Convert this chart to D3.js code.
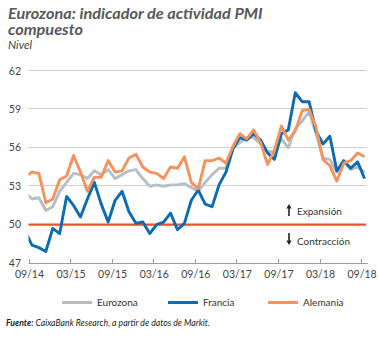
<!DOCTYPE html>
<html><head><meta charset="utf-8">
<script src="https://cdn.jsdelivr.net/npm/d3@7"></script>
<style>body{margin:0;background:#fff}svg{display:block}</style>
</head><body>
<svg id="c" width="378" height="338"></svg>
<script>
// ---------- DATA ----------
const months = ["08/14","09/14","10/14","11/14","12/14",
 "01/15","02/15","03/15","04/15","05/15","06/15","07/15","08/15","09/15","10/15","11/15","12/15",
 "01/16","02/16","03/16","04/16","05/16","06/16","07/16","08/16","09/16","10/16","11/16","12/16",
 "01/17","02/17","03/17","04/17","05/17","06/17","07/17","08/17","09/17","10/17","11/17","12/17",
 "01/18","02/18","03/18","04/18","05/18","06/18","07/18","08/18","09/18"];
const eurozona = [52.5, 52.0, 52.1, 51.1, 51.4,
 52.6, 53.3, 54.0, 53.9, 53.6, 54.2, 53.9, 54.3, 53.6, 53.9, 54.2, 54.3,
 53.6, 53.0, 53.1, 53.0, 53.1, 53.1, 53.2, 52.9, 52.6, 53.3, 53.9, 54.4,
 54.4, 56.0, 56.4, 56.8, 56.8, 56.3, 55.7, 55.7, 56.7, 56.0, 57.5, 58.1,
 58.8, 57.1, 55.2, 55.1, 54.1, 54.9, 54.3, 54.5, 54.1];
const francia = [49.5, 48.4, 48.2, 47.9, 49.7,
 49.3, 52.2, 51.5, 50.6, 52.0, 53.3, 51.6, 50.2, 51.9, 52.6, 51.0, 50.1,
 50.2, 49.3, 50.0, 50.2, 50.9, 49.6, 50.1, 51.9, 52.7, 51.6, 51.4, 53.1,
 54.1, 55.9, 56.8, 56.6, 57.1, 56.6, 55.6, 55.1, 57.1, 57.4, 60.3, 59.6,
 59.6, 57.3, 56.3, 56.9, 54.2, 55.0, 54.4, 54.9, 53.6];
const alemania = [53.7, 54.1, 54.0, 51.7, 52.0,
 53.5, 53.8, 55.4, 54.1, 52.6, 53.7, 53.7, 55.0, 54.1, 54.2, 55.2, 55.5,
 54.5, 54.1, 54.0, 53.6, 54.5, 54.4, 55.3, 53.3, 52.8, 55.0, 55.0, 55.2,
 54.8, 56.1, 57.1, 56.7, 57.4, 56.4, 54.7, 55.8, 57.7, 56.6, 57.3, 58.9,
 59.0, 57.6, 55.1, 54.6, 53.4, 54.8, 55.0, 55.6, 55.3];
const yTicks = [47, 50, 53, 56, 59, 62];
const xTickLabels = ["09/14","03/15","09/15","03/16","09/16","03/17","09/17","03/18","09/18"];
const seriesNames = ["Eurozona", "Francia", "Alemania"];
const refLevel = 50;

// ---------- STYLE ----------
const colors = {Eurozona:"#b6bfc6", Francia:"#0b6cb3", Alemania:"#f5925d"};
const FONT = "Lato, 'Open Sans', sans-serif";
const svg = d3.select("#c");
svg.append("rect").attr("width",378).attr("height",338).attr("fill","#fff");

const left = 28.5, right = 368, step = (right-left)/49;
const xb = d3.scaleBand().domain(months).range([left - step, right]);
const cx = m => xb(m) + xb.bandwidth()/2;
const y = d3.scaleLinear().domain([47, 62]).range([263, 71]);
const crisp = v => Math.round(v) + 0.5;

// title
const tg = svg.append("g");
const t1 = tg.append("text").attr("x",0).attr("y",19).text("Eurozona: indicador de actividad PMI");
const t2 = tg.append("text").attr("x",0).attr("y",35).text("compuesto");
tg.selectAll("text").attr("font-family",FONT).attr("font-size",14.5).attr("font-weight","bold")
  .attr("font-style","italic").attr("fill","#58595b");
const f = 255 / t1.node().getComputedTextLength();
tg.attr("transform",`translate(8,0) scale(${f},1)`);
svg.append("text").attr("x",8).attr("y",49).text("Nivel")
  .attr("font-family",FONT).attr("font-size",11.5).attr("font-style","italic").attr("fill","#444");

// grid
svg.append("g").selectAll("line").data(yTicks.filter(v => v > 47 && v !== refLevel)).join("line")
  .attr("x1",left).attr("x2",367).attr("y1",d=>crisp(y(d))-1).attr("y2",d=>crisp(y(d))-1)
  .attr("stroke","#cfcfcf").attr("stroke-width",1);

// y labels
svg.append("g").selectAll("text").data(yTicks).join("text")
  .attr("x",21).attr("y",d=>y(d)).attr("dy","0.35em").attr("text-anchor","end")
  .attr("font-family",FONT).attr("font-size",10.5).attr("fill","#444").text(d=>d);

// reference line 50
svg.append("line").attr("x1",left).attr("x2",366).attr("y1",y(refLevel)).attr("y2",y(refLevel))
  .attr("stroke","#e8532a").attr("stroke-width",2.2);

// x axis
const ay = crisp(y(47));
svg.append("line").attr("x1",left).attr("x2",right).attr("y1",ay).attr("y2",ay)
  .attr("stroke","#9c9c9c").attr("stroke-width",1);
const xg = svg.append("g");
xg.selectAll("line").data(xTickLabels).join("line")
  .attr("x1",d=>crisp(xb(d))).attr("x2",d=>crisp(xb(d))).attr("y1",ay).attr("y2",ay-4.5)
  .attr("stroke","#9c9c9c").attr("stroke-width",1);
xg.selectAll("text").data(xTickLabels).join("text")
  .attr("x",d=>xb(d)+1).attr("y",277.5).attr("text-anchor","middle")
  .attr("font-family",FONT).attr("font-size",10.5).attr("fill","#444").text(d=>d);

// lines
svg.append("clipPath").attr("id","clip").append("rect")
  .attr("x",left).attr("y",0).attr("width",right-left).attr("height",338);
const line = d3.line().x((d,i)=>cx(months[i])).y(d=>y(d));
const series = {Eurozona: eurozona, Francia: francia, Alemania: alemania};
const lg = svg.append("g").attr("clip-path","url(#clip)");
seriesNames.forEach(n => {
  lg.append("path").datum(series[n]).attr("d",line).attr("fill","none")
    .attr("stroke",colors[n]).attr("stroke-width",2.9).attr("stroke-linejoin","round");
});

// annotations
const ann = svg.append("g").attr("fill","#222");
function arrow(x, y0, y1) {
  const dir = y1 < y0 ? -1 : 1;
  ann.append("line").attr("x1",x).attr("x2",x).attr("y1",y0).attr("y2",y1 - dir*3.5)
    .attr("stroke","#222").attr("stroke-width",1.6);
  ann.append("path").attr("d",`M${x-2.6},${y1-dir*4.5}L${x+2.6},${y1-dir*4.5}L${x},${y1}Z`);
}
arrow(289, 216, 204);
arrow(289, 233, 245);
ann.append("text").attr("x",297).attr("y",215).text("Expansión");
ann.append("text").attr("x",297).attr("y",245).text("Contracción");
ann.selectAll("text").attr("font-family",FONT).attr("font-size",10).attr("fill","#333");

// legend
const legX = [62, 168, 268];
const leg = svg.append("g");
seriesNames.forEach((n,i) => {
  leg.append("line").attr("x1",legX[i]).attr("x2",legX[i]+30).attr("y1",302.5).attr("y2",302.5)
    .attr("stroke",colors[n]).attr("stroke-width",3);
  leg.append("text").attr("x",legX[i]+35).attr("y",306).text(n)
    .attr("font-family",FONT).attr("font-size",10).attr("fill","#333");
});

// source
const sg = svg.append("g");
const src = sg.append("text").attr("x",0).attr("y",326)
  .attr("font-family",FONT).attr("font-size",10).attr("font-style","italic").attr("fill","#222");
src.append("tspan").attr("font-weight","bold").text("Fuente:");
src.append("tspan").text(" CaixaBank Research, a partir de datos de Markit.");
const sw = src.node().getComputedTextLength();
const sf = Math.min(1, 204 / sw);
sg.attr("transform",`translate(6,0) scale(${sf},1)`);
</script>
</body></html>
